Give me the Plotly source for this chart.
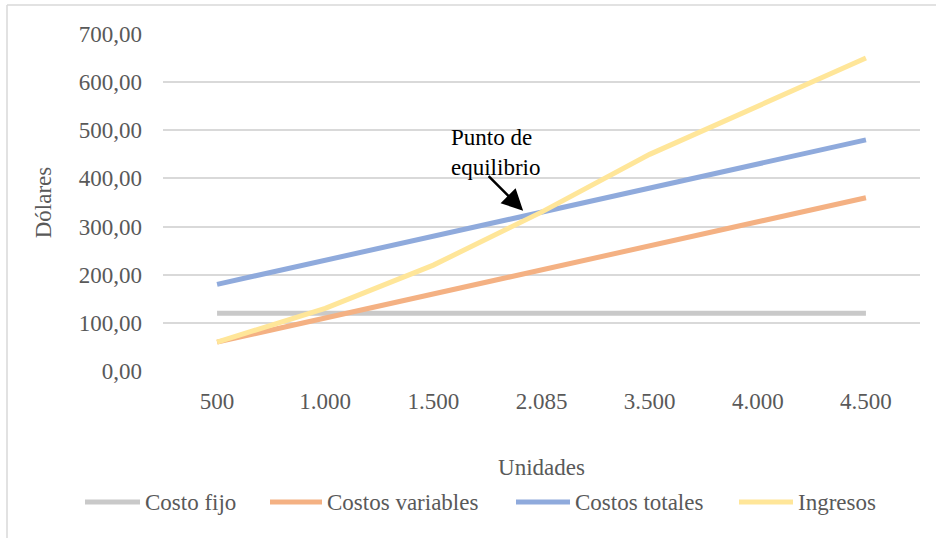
import plotly.graph_objects as go

unidades = ["500", "1.000", "1.500", "2.085", "3.500", "4.000", "4.500"]
costo_fijo = [120, 120, 120, 120, 120, 120, 120]
costos_variables = [60, 110, 160, 210, 260, 310, 360]
costos_totales = [180, 230, 280, 330, 380, 430, 480]
ingresos = [60, 130, 220, 330, 450, 550, 650]

series_names = ["Costo fijo", "Costos variables", "Costos totales", "Ingresos"]
series_values = [costo_fijo, costos_variables, costos_totales, ingresos]
colors = ["#C9C9C9", "#F4B183", "#8FAADC", "#FFE699"]

FONT = "Liberation Serif, Times New Roman, serif"
TXT = "#595959"

W, H = 936, 538
L, R, T, B = 163, 16, 34, 167
pw, ph = W - L - R, H - T - B


def px(xp):
    return (xp - L) / pw


def py(yp):
    return (H - B - yp) / ph


fig = go.Figure()
for name, vals, c in zip(series_names, series_values, colors):
    fig.add_trace(go.Scatter(
        x=unidades, y=vals, mode="lines", name=name,
        line=dict(color=c, width=5), showlegend=False,
    ))

shapes = []
annotations = []

# manual legend
leg_lines = [(85, 140), (270, 322), (516, 570), (739, 793)]
leg_y = py(502)
for (a, b), name, c in zip(leg_lines, series_names, colors):
    shapes.append(dict(type="line", xref="paper", yref="paper",
                       x0=px(a), x1=px(b), y0=leg_y, y1=leg_y,
                       line=dict(color=c, width=5)))
    annotations.append(dict(xref="paper", yref="paper", x=px(b + 3), y=leg_y,
                            xanchor="left", yanchor="middle", showarrow=False,
                            text=name, font=dict(family=FONT, size=23, color=TXT)))

# chart border (top and left)
shapes.append(dict(type="line", xref="paper", yref="paper",
                   x0=px(7), x1=px(940), y0=py(5), y1=py(5),
                   line=dict(color="#D9D9D9", width=1.5)))
shapes.append(dict(type="line", xref="paper", yref="paper",
                   x0=px(7), x1=px(7), y0=py(5), y1=py(545),
                   line=dict(color="#D9D9D9", width=1.5)))

# annotation text
annotations.append(dict(xref="paper", yref="paper", x=px(449), y=py(152),
                        xanchor="left", yanchor="middle", align="left",
                        showarrow=False, text="Punto de<br>equilibrio",
                        font=dict(family=FONT, size=23, color="#000000")))
# arrow
annotations.append(dict(x=2.83, y=333, xref="x", yref="y", text="",
                        showarrow=True, arrowhead=2, arrowsize=1.7,
                        arrowwidth=2.5, arrowcolor="#000000",
                        ax=-36, ay=-36, standoff=0))

fig.update_layout(
    width=W, height=H,
    margin=dict(l=L, r=R, t=T, b=B),
    paper_bgcolor="white", plot_bgcolor="white",
    separators=",.",
    font=dict(family=FONT, size=23, color=TXT),
    shapes=shapes, annotations=annotations,
    xaxis=dict(type="category", range=[-0.5, 6.5],
               showgrid=False, zeroline=False, showline=False,
               ticks="", tickfont=dict(family=FONT, size=23, color=TXT),
               ticklabelstandoff=14,
               title=dict(text="Unidades", font=dict(family=FONT, size=23, color=TXT),
                          standoff=45)),
    yaxis=dict(range=[0, 700], dtick=100, tickformat=",.2f",
               showgrid=True, gridcolor="#D9D9D9", gridwidth=1.5,
               zeroline=False, showline=False, ticks="",
               tickfont=dict(family=FONT, size=23, color=TXT),
               ticklabelstandoff=20,
               title=dict(text="Dólares", font=dict(family=FONT, size=23, color=TXT),
                          standoff=20)),
)

fig.write_html("out.html", config={"displayModeBar": False},
               post_script="document.body.style.margin='0px';")
